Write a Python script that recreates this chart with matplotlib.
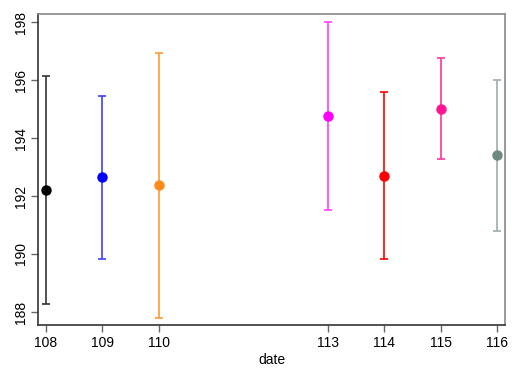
import matplotlib
matplotlib.use("Agg")
import matplotlib.pyplot as plt

dates = [108, 109, 110, 113, 114, 115, 116]
means = [192.22, 192.64, 192.38, 194.76, 192.70, 195.01, 193.40]
upper = [196.15, 195.46, 196.94, 198.00, 195.59, 196.75, 196.01]
lower = [188.29, 189.82, 187.79, 191.52, 189.82, 193.29, 190.79]
point_colors = ["#000000", "#0000FF", "#FF8C1A", "#FF00FF", "#FF0000", "#FF1493", "#6E8A80"]
bar_colors = ["#333333", "#4040FF", "#FF9933", "#FF40FF", "#FF0000", "#FF3399", "#9AAFA8"]
yticks = [188, 190, 192, 194, 196, 198]

plt.rcParams['font.family'] = ['Liberation Sans', 'DejaVu Sans']
fig = plt.figure(figsize=(5.19, 3.78), dpi=100)
ax = fig.add_axes([38/519, 1-325/378, (505-38)/519, (325-14)/378])

for d, m, u, l, pc, bc in zip(dates, means, upper, lower, point_colors, bar_colors):
    ax.errorbar([d], [m], yerr=[[m-l], [u-m]], fmt='none', ecolor=bc, elinewidth=1.2, capsize=3, capthick=1.2)
    ax.plot([d], [m], 'o', color=pc, markersize=6.5, zorder=3)

ax.set_xlim(107.86, 116.14)
ax.set_ylim(187.55, 198.28)
ax.set_xticks(dates)
ax.set_xticklabels([str(d) for d in dates], fontsize=10)
ax.set_yticks(yticks)
ax.set_yticklabels([str(t) for t in yticks], fontsize=10, rotation=90, va='center')
ax.set_xlabel("date", fontsize=10, labelpad=2)
ax.tick_params(axis='both', length=5, color='#666666', width=1)
ax.tick_params(axis='x', pad=3)
ax.tick_params(axis='y', pad=2)
for s in ['left', 'bottom']:
    ax.spines[s].set_color('#333333')
for s in ['top', 'right']:
    ax.spines[s].set_color('#888888')
for s in ax.spines.values():
    s.set_linewidth(1.2)

fig.savefig("out.png", dpi=100)
